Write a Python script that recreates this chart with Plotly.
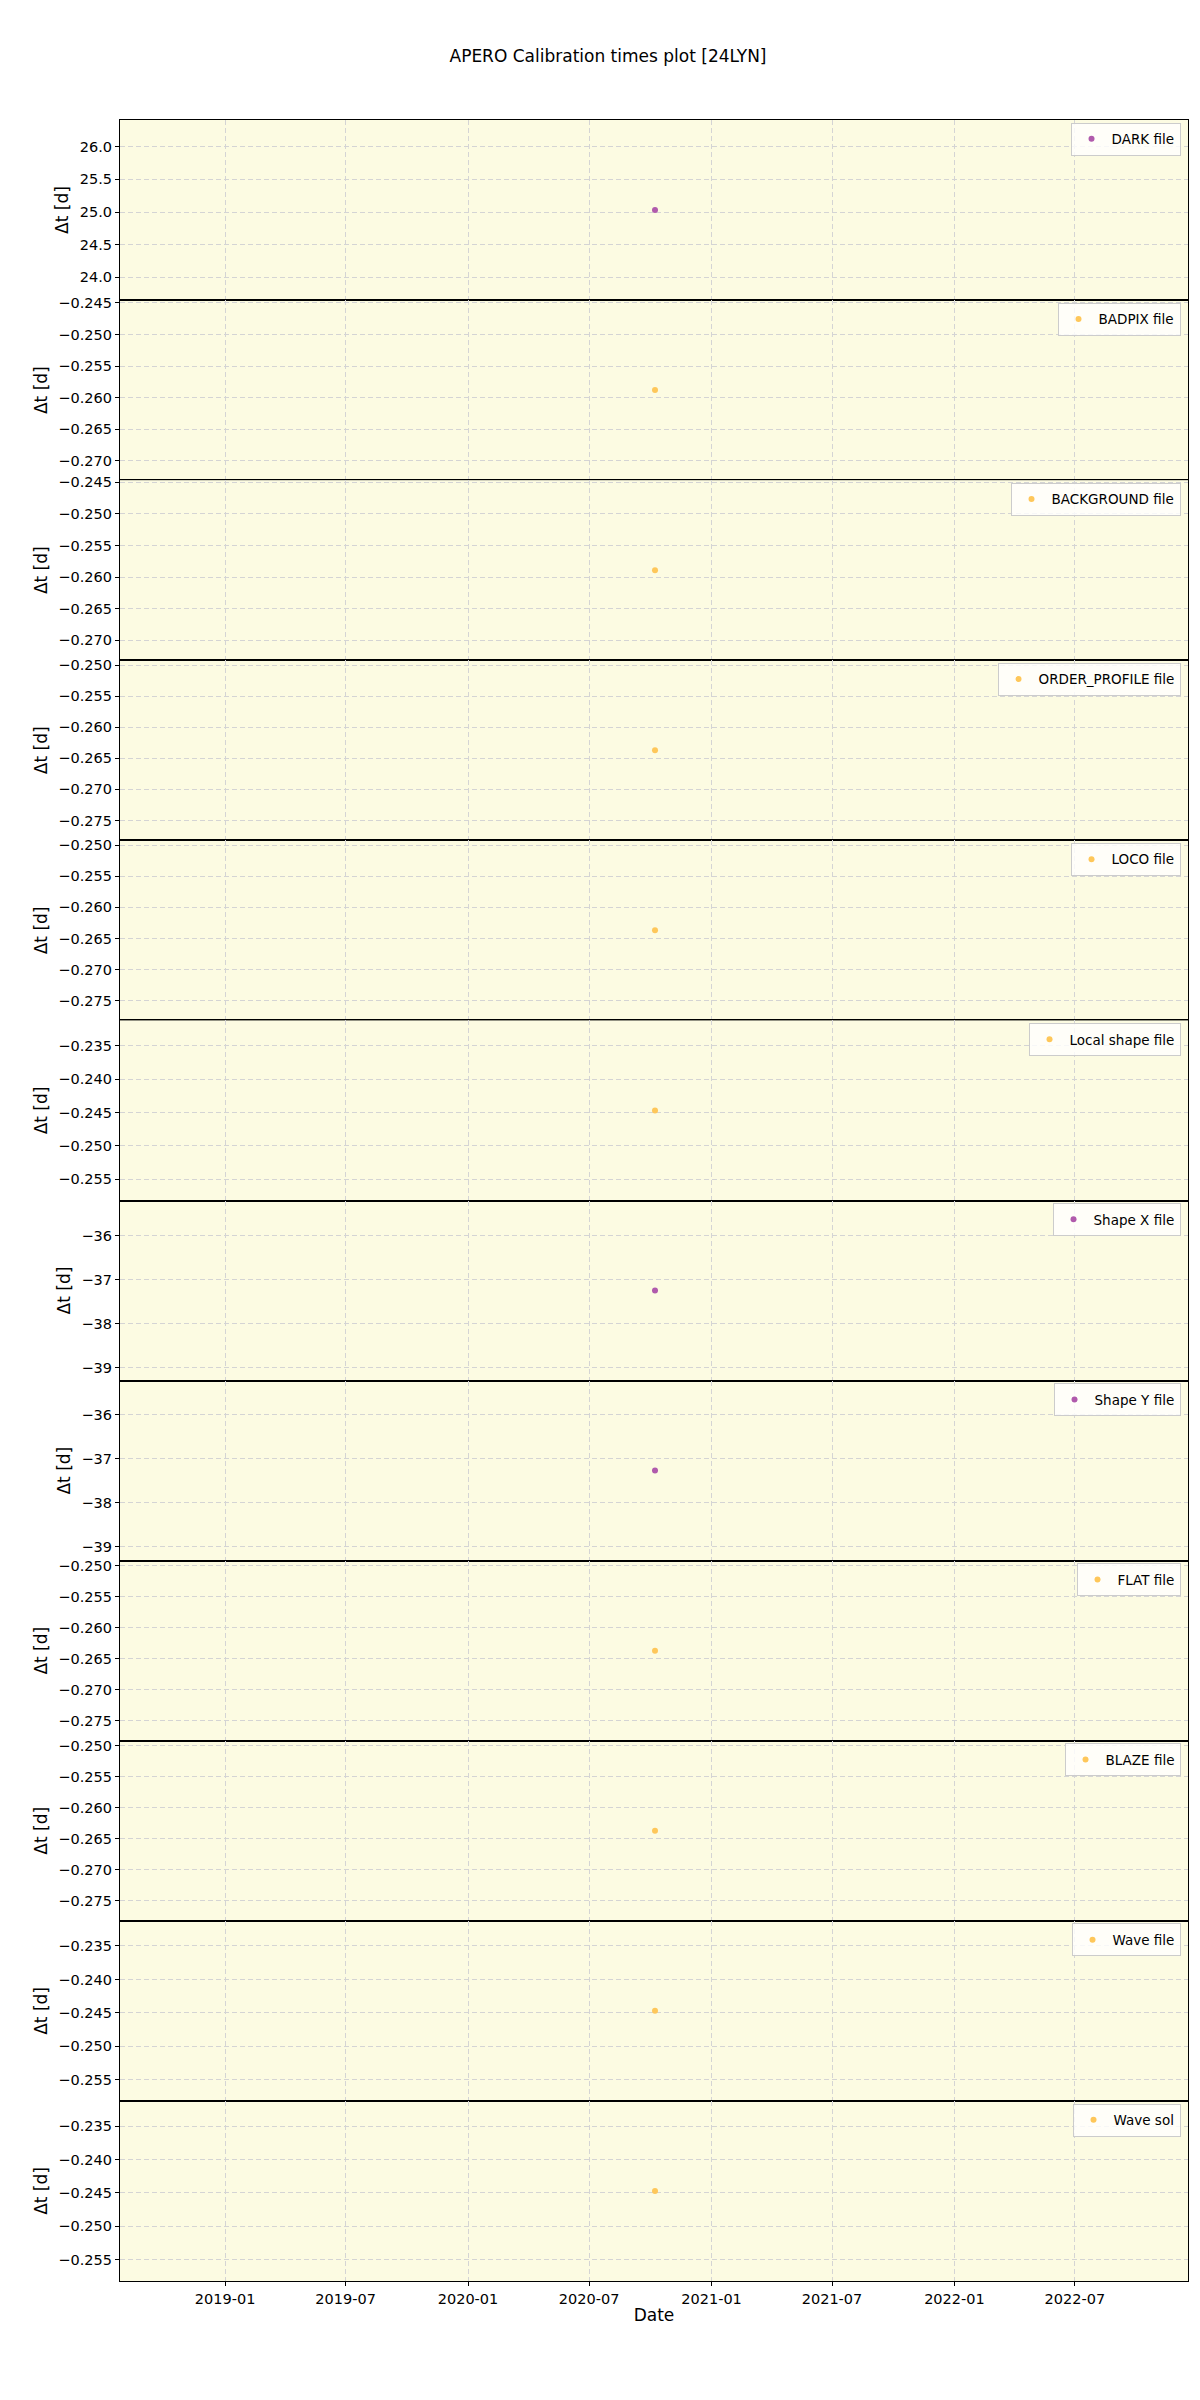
import plotly.graph_objects as go
from plotly.subplots import make_subplots

# calibration file types, one panel each
labels = ["DARK file", "BADPIX file", "BACKGROUND file", "ORDER_PROFILE file",
          "LOCO file", "Local shape file", "Shape X file", "Shape Y file",
          "FLAT file", "BLAZE file", "Wave file", "Wave sol"]
dates = ["2020-10-08"] * 12
dt_days = [25.03, -0.2588, -0.2589, -0.2637, -0.2637, -0.2447,
           -37.25, -37.27, -0.2637, -0.2637, -0.2447, -0.2447]
colors = ["#b05aac", "#fec75a", "#fec75a", "#fec75a", "#fec75a", "#fec75a",
          "#b05aac", "#b05aac", "#fec75a", "#fec75a", "#fec75a", "#fec75a"]

n = len(labels)
fig = make_subplots(rows=n, cols=1, shared_xaxes=True, vertical_spacing=0)

for i in range(n):
    leg = "legend" if i == 0 else f"legend{i+1}"
    fig.add_trace(go.Scatter(
        x=[dates[i]], y=[dt_days[i]],
        mode='markers',
        marker=dict(color=colors[i], size=6),
        name=labels[i],
        legend=leg,
        showlegend=True
    ), row=i+1, col=1)

    # matplotlib-like autoscale around a single value
    v = dt_days[i]
    pad = abs(v) * 0.05 * 1.1
    if abs(v) > 10:
        dtick, fmt = (0.5, ".1f") if v > 0 else (1, "d")
    else:
        dtick, fmt = 0.005, ".3f"
    fig.update_yaxes(range=[v - pad, v + pad], dtick=dtick, tickformat=fmt,
                     title_text="Δt [d]", row=i+1, col=1)

    # legend in the top right corner of each panel
    top = 1 - i / n
    fig.update_layout({leg: dict(
        x=0.993, y=top - 0.0012, xanchor='right', yanchor='top',
        bgcolor='rgba(255,255,255,0.8)', bordercolor='#cccccc', borderwidth=1,
        font=dict(size=13.5, color='black'), itemsizing='trace'
    )})

fig.update_xaxes(
    range=["2018-07-27", "2022-12-18"],
    dtick="M6", tick0="2019-01-01", tickformat="%Y-%m",
    showgrid=True, gridcolor='#d4d4d4', griddash='5px,3px', gridwidth=1,
    showline=True, linecolor='black', linewidth=1.2, mirror=True,
    ticks='outside', ticklen=4, tickcolor='black', zeroline=False
)
fig.update_xaxes(showticklabels=True, title_text="Date", title_standoff=3, row=n, col=1)
fig.update_yaxes(
    showgrid=True, gridcolor='#d4d4d4', griddash='5px,3px', gridwidth=1,
    showline=True, linecolor='black', linewidth=1.2, mirror=True,
    ticks='outside', ticklen=4, tickcolor='black', zeroline=False,
    title_standoff=6, automargin=False
)

fig.update_layout(
    title=dict(text='APERO Calibration times plot [24LYN]', x=0.5, xanchor='center',
               y=0.980, yanchor='middle', font=dict(size=17, color='black')),
    width=1200, height=2400,
    margin=dict(l=112, r=20, t=112, b=127),
    plot_bgcolor='#fcfbe2',
    paper_bgcolor='white',
    showlegend=True,
    font=dict(family='DejaVu Sans', size=14.5, color='black')
)
for i in range(n):
    fig.layout[f"xaxis{'' if i == 0 else i+1}"].showticklabels = (i == n - 1)

fig.write_html("out.html")
